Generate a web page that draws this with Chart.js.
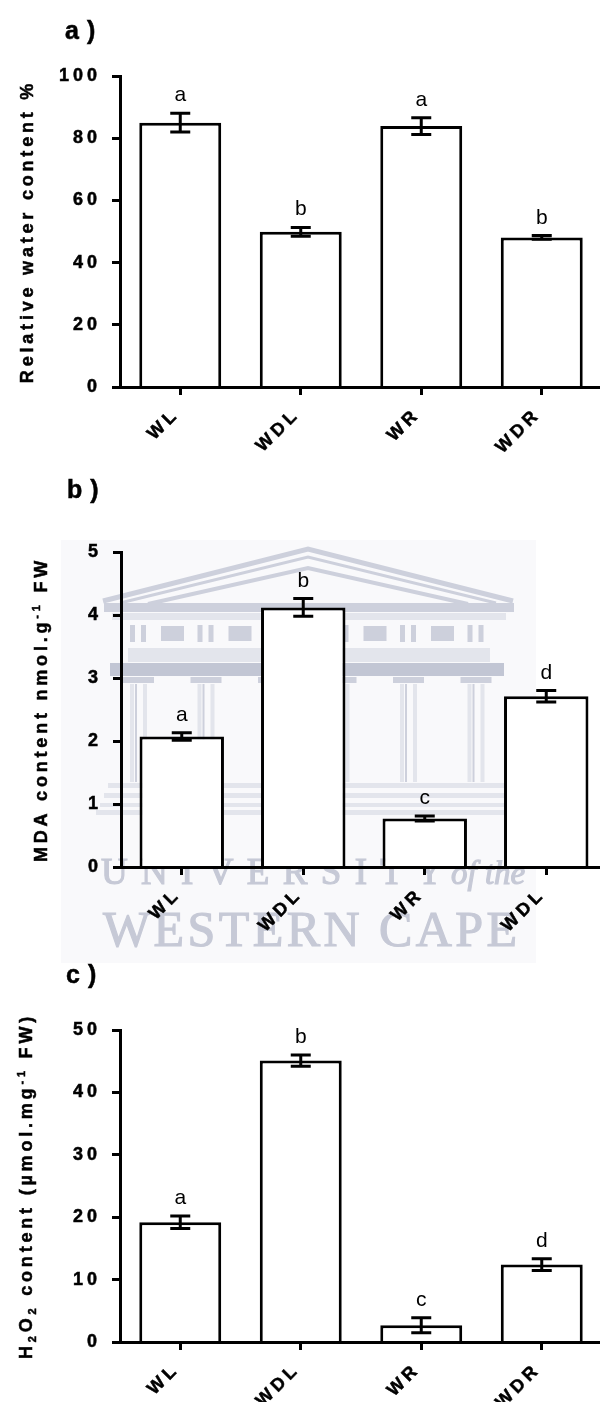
<!DOCTYPE html>
<html>
<head>
<meta charset="utf-8">
<script src="https://cdn.jsdelivr.net/npm/chart.js@4.4.1/dist/chart.umd.min.js"></script>
<style>
  html, body { margin: 0; padding: 0; background: #fff; overflow: hidden; }
  #page { position: relative; width: 600px; height: 1402px; overflow: hidden; background: #fff; }
  #page canvas { position: absolute; left: 0; }
</style>
</head>
<body>
<div id="page">
  <canvas id="crest" width="600" height="1402" style="top:0"></canvas>
  <canvas id="chartA" width="602" height="470" style="top:0"></canvas>
  <canvas id="chartB" width="607" height="490" style="top:470px"></canvas>
  <canvas id="chartC" width="602" height="442" style="top:960px"></canvas>
</div>
<script>
// ---- a) relative water content ----
const rwcGroups  = ['WL', 'WDL', 'WR', 'WDR'];
const rwcMean    = [85.0, 49.9, 83.9, 48.1];
const rwcSem     = [3.0, 1.4, 2.7, 0.6];
const rwcLetters = ['a', 'b', 'a', 'b'];
const rwcAxis    = { min: 0, max: 100, step: 20 };

// ---- b) malondialdehyde ----
const mdaGroups  = ['WL', 'WDL', 'WR', 'WDL'];
const mdaMean    = [2.07, 4.12, 0.77, 2.71];
const mdaSem     = [0.06, 0.14, 0.04, 0.09];
const mdaLetters = ['a', 'b', 'c', 'd'];
const mdaAxis    = { min: 0, max: 5, step: 1 };

// ---- c) hydrogen peroxide ----
const h2o2Groups  = ['WL', 'WDL', 'WR', 'WDR'];
const h2o2Mean    = [19.2, 45.1, 2.7, 12.4];
const h2o2Sem     = [1.0, 0.9, 1.2, 0.95];
const h2o2Letters = ['a', 'b', 'c', 'd'];
const h2o2Axis    = { min: 0, max: 50, step: 10 };

const SANS = '"Liberation Sans", Arial, sans-serif';
const SERIF = '"Liberation Serif", "Times New Roman", serif';

// Prism-style wide letter spacing for axis text
const spacingPlugin = {
  id: 'spacing',
  beforeDraw(chart) { chart.ctx.letterSpacing = '4px'; }
};

// Mean ± SEM whiskers and significance letters
const errorBarPlugin = {
  id: 'errbars',
  afterDatasetsDraw(chart, args, opts) {
    const ctx = chart.ctx;
    const yScale = chart.scales.y;
    const meta = chart.getDatasetMeta(0);
    const values = chart.data.datasets[0].data;
    ctx.save();
    ctx.strokeStyle = '#000';
    ctx.fillStyle = '#000';
    ctx.lineWidth = 3;
    ctx.lineCap = 'butt';
    meta.data.forEach((bar, i) => {
      const v = values[i], e = opts.sem[i];
      const x = bar.x;
      const yHi = yScale.getPixelForValue(v + e);
      const yLo = yScale.getPixelForValue(v - e);
      ctx.beginPath();
      ctx.moveTo(x, yHi); ctx.lineTo(x, yLo);
      ctx.moveTo(x - 10, yHi); ctx.lineTo(x + 10, yHi);
      ctx.moveTo(x - 10, yLo); ctx.lineTo(x + 10, yLo);
      ctx.stroke();
      ctx.letterSpacing = '0px';
      ctx.font = '21px ' + SANS;
      ctx.textAlign = 'center';
      ctx.textBaseline = 'alphabetic';
      ctx.fillText(opts.letters[i], x, yHi - 12);
    });
    ctx.restore();
  }
};

// Rotated y-axis title with sub/superscripts
function drawRotatedRich(ctx, segs, cx, cy, size) {
  ctx.save();
  ctx.translate(cx, cy);
  ctx.rotate(-Math.PI / 2);
  ctx.letterSpacing = '3.8px';
  ctx.fillStyle = '#000';
  ctx.strokeStyle = '#000';
  ctx.lineWidth = 0.5;
  ctx.textAlign = 'left';
  ctx.textBaseline = 'alphabetic';
  let total = 0;
  const parts = segs.map(s => {
    const fs = s.k ? Math.round(size * 0.62) : size;
    ctx.font = 'bold ' + fs + 'px ' + SANS;
    const w = ctx.measureText(s.t).width;
    total += w;
    return { s, fs, w };
  });
  let x = -total / 2;
  const base = size * 0.36;
  parts.forEach(p => {
    ctx.font = 'bold ' + p.fs + 'px ' + SANS;
    let dy = 0;
    if (p.s.k === 'sup') dy = -size * 0.42;
    if (p.s.k === 'sub') dy = size * 0.22;
    ctx.fillText(p.s.t, x, base + dy);
    ctx.strokeText(p.s.t, x, base + dy);
    x += p.w;
  });
  ctx.restore();
}

// Panel tag ("a)", "b)", "c)") and y-axis title
const panelTextPlugin = {
  id: 'panelText',
  afterDraw(chart, args, opts) {
    const ctx = chart.ctx;
    const area = chart.chartArea;
    ctx.save();
    ctx.letterSpacing = '8px';
    ctx.font = 'bold 25px ' + SANS;
    ctx.fillStyle = '#000';
    ctx.strokeStyle = '#000';
    ctx.lineWidth = 0.5;
    ctx.textAlign = 'left';
    ctx.textBaseline = 'alphabetic';
    ctx.fillText(opts.tag, opts.tagX, opts.tagY);
    ctx.strokeText(opts.tag, opts.tagX, opts.tagY);
    ctx.restore();
    drawRotatedRich(ctx, opts.title, opts.titleX, (area.top + area.bottom) / 2, 18);
  }
};

function makePanel(id, cfg) {
  const tickFont = { family: SANS, size: 18, weight: 'bold' };
  return new Chart(document.getElementById(id), {
    type: 'bar',
    data: {
      labels: cfg.labels,
      datasets: [{
        data: cfg.values,
        backgroundColor: '#fff',
        borderColor: '#000',
        borderWidth: 3,
        barPercentage: cfg.barPct,
        categoryPercentage: 1
      }]
    },
    options: {
      responsive: false,
      animation: false,
      events: [],
      layout: { padding: { top: cfg.padTop, bottom: 0, left: 0, right: 0 } },
      plugins: {
        legend: { display: false },
        tooltip: { enabled: false },
        errbars: { sem: cfg.sem, letters: cfg.letters },
        panelText: { tag: cfg.tag, tagX: cfg.tagX, tagY: cfg.tagY, title: cfg.title, titleX: cfg.titleX }
      },
      scales: {
        x: {
          type: 'category',
          offset: true,
          grid: { display: true, drawOnChartArea: false, drawTicks: true, tickLength: 8, tickWidth: 3, tickColor: '#000', offset: false },
          border: { display: true, color: '#000', width: 3, z: 1 },
          ticks: { color: '#000', font: tickFont, textStrokeColor: '#000', textStrokeWidth: 0.5,
                   minRotation: 45, maxRotation: 45, autoSkip: false, padding: 9, labelOffset: -4 },
          afterFit(s) { s.height = cfg.xHeight; s.paddingLeft = 0; s.paddingRight = 0; }
        },
        y: {
          min: cfg.axis.min,
          max: cfg.axis.max,
          grid: { display: true, drawOnChartArea: false, drawTicks: true, tickLength: 8, tickWidth: 3, tickColor: '#000' },
          border: { display: true, color: '#000', width: 3 },
          ticks: { stepSize: cfg.axis.step, color: '#000', font: tickFont, textStrokeColor: '#000', textStrokeWidth: 0.5, padding: 11 },
          afterFit(s) { s.width = cfg.yWidth; s.paddingTop = 0; s.paddingBottom = 0; }
        }
      }
    },
    plugins: [spacingPlugin, errorBarPlugin, panelTextPlugin]
  });
}

// University crest watermark behind the middle panel
function drawCrest() {
  const ctx = document.getElementById('crest').getContext('2d');
  const c1 = '#cdd0dc', c2 = '#c2c6d4', c3 = '#e3e5ec';
  ctx.fillStyle = '#f9f9fb';
  ctx.fillRect(61, 540, 475, 423);
  // pediment
  ctx.strokeStyle = c1;
  ctx.lineJoin = 'miter';
  ctx.lineWidth = 5;
  ctx.beginPath(); ctx.moveTo(103, 601); ctx.lineTo(308, 549); ctx.lineTo(513, 601); ctx.stroke();
  ctx.lineWidth = 3;
  ctx.beginPath(); ctx.moveTo(120, 603); ctx.lineTo(308, 557); ctx.lineTo(496, 603); ctx.stroke();
  ctx.lineWidth = 4;
  ctx.beginPath(); ctx.moveTo(148, 604); ctx.lineTo(308, 568); ctx.lineTo(468, 604); ctx.stroke();
  // cornice
  ctx.fillStyle = c1;
  ctx.fillRect(104, 603, 410, 9);
  ctx.fillStyle = c3;
  ctx.fillRect(112, 613, 394, 7);
  // frieze: triglyphs and metopes
  ctx.fillStyle = c1;
  for (let i = 0; i < 6; i++) {
    const x0 = 130 + i * 67.5;
    ctx.fillRect(x0, 625, 5, 17);
    ctx.fillRect(x0 + 11, 625, 5, 17);
    if (i < 5) ctx.fillRect(x0 + 31, 626, 23, 15);
  }
  // architrave
  ctx.fillStyle = c3;
  ctx.fillRect(128, 648, 362, 14);
  ctx.fillStyle = c2;
  ctx.fillRect(110, 663, 394, 13);
  // capitals and columns
  for (let i = 0; i < 6; i++) {
    const x0 = 130 + i * 67.5;
    ctx.fillStyle = c1;
    ctx.fillRect(x0 - 7, 677, 31, 6);
    ctx.fillStyle = c3;
    ctx.fillRect(x0, 684, 4, 98);
    ctx.fillRect(x0 + 13, 684, 4, 98);
    ctx.fillStyle = c1;
    ctx.fillRect(x0 + 5, 684, 2, 98);
  }
  // steps
  ctx.fillStyle = c3;
  ctx.fillRect(108, 783, 398, 5);
  ctx.fillRect(104, 793, 404, 5);
  ctx.fillRect(100, 803, 410, 4);
  ctx.fillRect(96, 810, 418, 5);
  // lettering
  ctx.fillStyle = '#c6c9d6';
  ctx.strokeStyle = '#c6c9d6';
  ctx.lineWidth = 1.2;
  ctx.textBaseline = 'alphabetic';
  ctx.textAlign = 'left';
  const fitText = (txt, font, x0, x1, y) => {
    ctx.font = font;
    ctx.letterSpacing = '0px';
    const w = ctx.measureText(txt).width;
    const ls = Math.max(0, ((x1 - x0) - w) / (txt.length - 1));
    ctx.letterSpacing = ls + 'px';
    ctx.fillText(txt, x0, y);
    ctx.strokeText(txt, x0, y);
  };
  fitText('UNIVERSITY', '37px ' + SERIF, 101, 443, 884);
  fitText('of the', 'italic 33px ' + SERIF, 451, 519, 884);
  fitText('WESTERN CAPE', '50px ' + SERIF, 103, 517, 946);
}
drawCrest();

makePanel('chartA', {
  labels: rwcGroups, values: rwcMean, sem: rwcSem, letters: rwcLetters, axis: rwcAxis,
  barPct: 0.68, padTop: 76, xHeight: 83, yWidth: 120,
  tag: 'a)', tagX: 65, tagY: 39, titleX: 27,
  title: [{ t: 'Relative water content %' }]
});

makePanel('chartB', {
  labels: mdaGroups, values: mdaMean, sem: mdaSem, letters: mdaLetters, axis: mdaAxis,
  barPct: 0.695, padTop: 82, xHeight: 93, yWidth: 121,
  tag: 'b)', tagX: 67, tagY: 28, titleX: 41,
  title: [{ t: 'MDA content nmol.g' }, { t: '-1', k: 'sup' }, { t: ' FW' }]
});

makePanel('chartC', {
  labels: h2o2Groups, values: h2o2Mean, sem: h2o2Sem, letters: h2o2Letters, axis: h2o2Axis,
  barPct: 0.68, padTop: 70, xHeight: 60, yWidth: 120,
  tag: 'c)', tagX: 66, tagY: 23, titleX: 26,
  title: [{ t: 'H' }, { t: '2', k: 'sub' }, { t: 'O' }, { t: '2', k: 'sub' }, { t: ' content (\u00b5mol.mg' }, { t: '-1', k: 'sup' }, { t: ' FW)' }]
});
</script>
</body>
</html>
